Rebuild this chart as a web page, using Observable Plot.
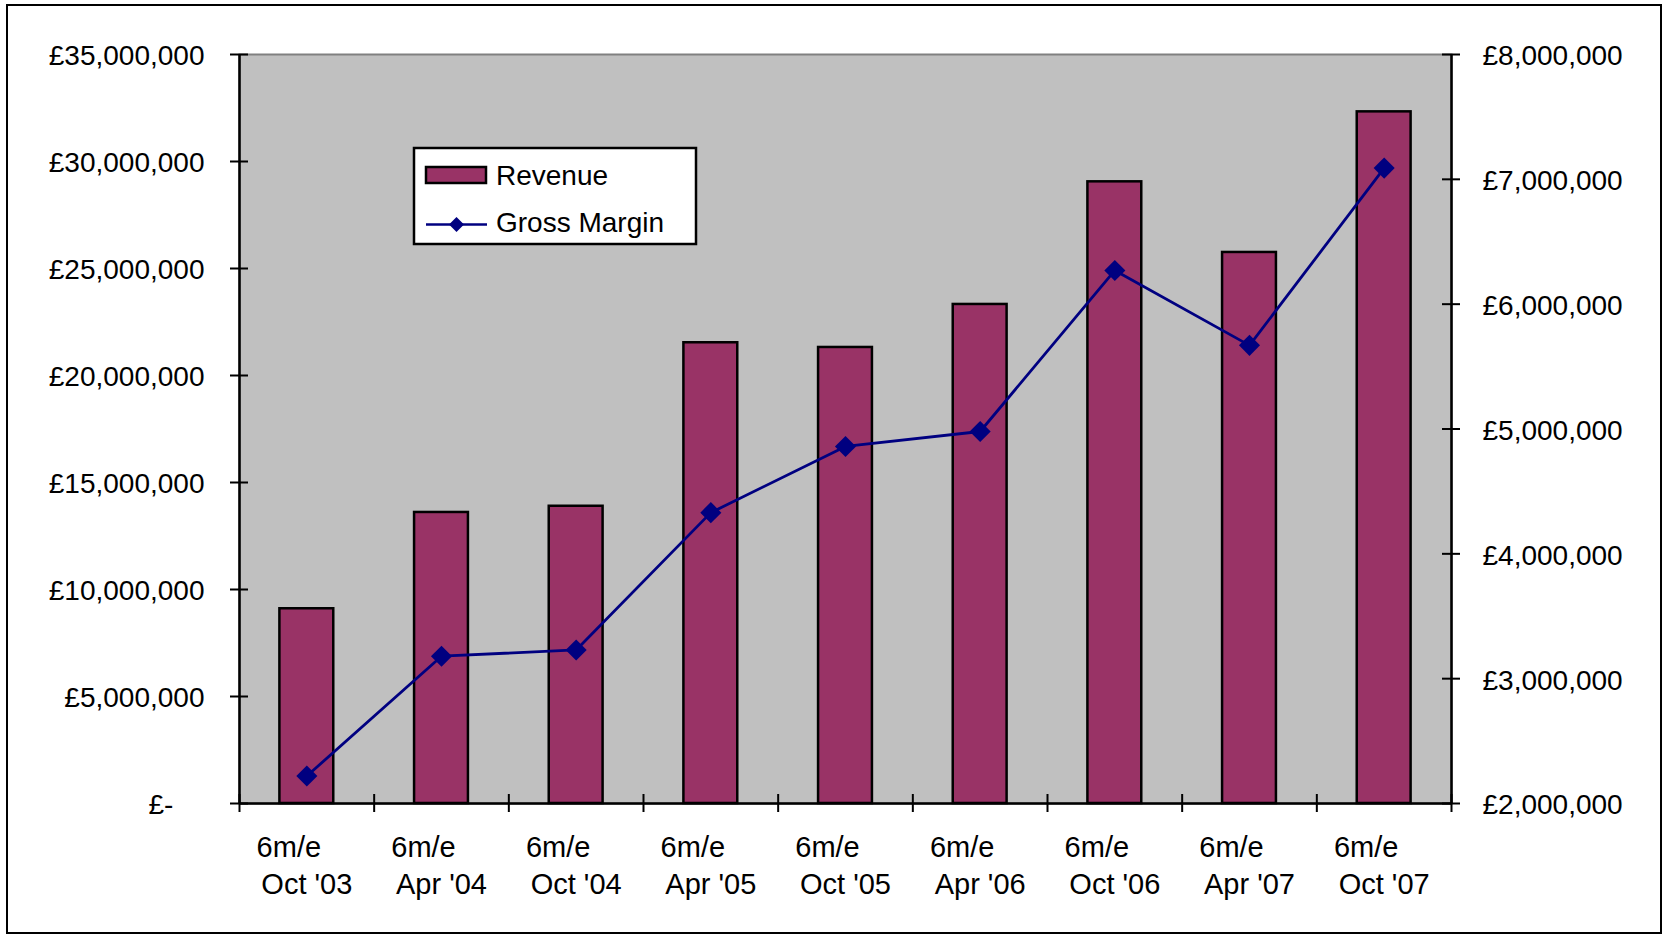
<!DOCTYPE html>
<html>
<head>
<meta charset="utf-8">
<script src="https://cdn.jsdelivr.net/npm/d3@7"></script>
<script src="https://cdn.jsdelivr.net/npm/@observablehq/plot@0.6"></script>
<style>
  html, body { margin: 0; padding: 0; background: #fff; }
  #wrap { position: relative; width: 1666px; height: 937px; }
  #wrap > svg { position: absolute; left: 0; top: 0; }
  #border { position: absolute; left: 6px; top: 4px; width: 1652px; height: 926px; border: 2.5px solid #000; pointer-events: none; }
  #legend { position: absolute; left: 0; top: 0; pointer-events: none; }
</style>
</head>
<body>
<div id="wrap"></div>
<script>
// ---- data ----
const periods = ["Oct '03", "Apr '04", "Oct '04", "Apr '05", "Oct '05", "Apr '06", "Oct '06", "Apr '07", "Oct '07"];
const periodPrefix = "6m/e";
const revenue = [9100000, 13600000, 13890000, 21530000, 21310000, 23320000, 29050000, 25750000, 32320000];
const grossMargin = [2220000, 3180000, 3230000, 4330000, 4860000, 4980000, 6270000, 5670000, 7090000];
const leftTicks = [0, 5000000, 10000000, 15000000, 20000000, 25000000, 30000000, 35000000];
const rightTicks = [2000000, 3000000, 4000000, 5000000, 6000000, 7000000, 8000000];
const seriesNames = ["Revenue", "Gross Margin"];

// ---- secondary axis mapping ----
const leftDomain = [0, 35000000];
const rightDomain = [2000000, 8000000];
const k = (leftDomain[1] - leftDomain[0]) / (rightDomain[1] - rightDomain[0]);
const toLeft = v => (v - rightDomain[0]) * k + leftDomain[0];
const fromLeft = v => (v - leftDomain[0]) / k + rightDomain[0];

const rows = periods.map((p, i) => ({period: p, revenue: revenue[i], gm: grossMargin[i]}));

const W = 1666, H = 937;
const mL = 239, mR = 215, mT = 54, mB = 134;
const frameW = W - mL - mR, frameH = H - mT - mB;
const step = frameW / periods.length;
const tk = 9;

const fmt = d3.format(",.0f");
const leftFmt = d => d === 0 ? "£-\u2007\u2007" : "£" + fmt(d);
const rightFmt = d => "£" + fmt(Math.round(fromLeft(d)));

const barColor = "#993366";
const lineColor = "#000080";
const labelStyle = {fontSize: 28, letterSpacing: "0.3px"};

const chart = Plot.plot({
  width: W,
  height: H,
  marginLeft: mL,
  marginRight: mR,
  marginTop: mT,
  marginBottom: mB,
  style: {fontFamily: "'Liberation Sans', Arial, sans-serif", fontSize: "28px", color: "#000", background: "transparent", overflow: "visible"},
  x: {type: "band", domain: periods, paddingInner: 0.6, paddingOuter: 0.3, round: false},
  y: {domain: leftDomain},
  marks: [
    Plot.frame({fill: "#c0c0c0", stroke: "#808080", strokeWidth: 2}),
    Plot.barY(rows, {x: "period", y: "revenue", fill: barColor, stroke: "#000", strokeWidth: 2.5}),
    Plot.line(rows, {x: "period", y: d => toLeft(d.gm), stroke: lineColor, strokeWidth: 2.8}),
    Plot.dot(rows, {x: "period", y: d => toLeft(d.gm), symbol: "diamond2", r: 9.5, fill: lineColor, stroke: "none"}),
    // axis lines
    Plot.ruleY([0], {stroke: "#000", strokeWidth: 2.5}),
    Plot.tickX([periods[0]], {x: d => d, dx: -step / 2, stroke: "#000", strokeWidth: 2.5}),
    Plot.tickX([periods[periods.length - 1]], {x: d => d, dx: step / 2, stroke: "#000", strokeWidth: 2.5}),
    // crossing tick marks
    Plot.tickY(leftTicks, {y: d => d, insetLeft: -tk, insetRight: frameW - tk, stroke: "#000", strokeWidth: 2}),
    Plot.tickY(rightTicks.map(toLeft), {y: d => d, insetLeft: frameW - tk, insetRight: -tk, stroke: "#000", strokeWidth: 2}),
    Plot.tickX(periods, {x: d => d, dx: -step / 2, insetTop: frameH - tk, insetBottom: -tk, stroke: "#000", strokeWidth: 2}),
    Plot.tickX([periods[periods.length - 1]], {x: d => d, dx: step / 2, insetTop: frameH - tk, insetBottom: -tk, stroke: "#000", strokeWidth: 2}),
    // axis labels
    Plot.axisY(leftTicks, {anchor: "left", label: null, tickSize: 0, tickPadding: 35, tickFormat: leftFmt, dy: 2, ...labelStyle}),
    Plot.axisY(rightTicks.map(toLeft), {anchor: "right", label: null, tickSize: 0, tickPadding: 31, tickFormat: rightFmt, dy: 2, ...labelStyle}),
    Plot.axisX(periods, {anchor: "bottom", label: null, tickSize: 0, tickPadding: 33, tickFormat: () => periodPrefix, dx: -18, fontSize: 29}),
    Plot.axisX(periods, {anchor: "bottom", label: null, tickSize: 0, tickPadding: 70, tickFormat: d => d, fontSize: 29})
  ]
});

const wrap = document.getElementById("wrap");
wrap.appendChild(chart);

// legend (inside the plot area, as in the reference)
const ns = "http://www.w3.org/2000/svg";
const lg = document.createElementNS(ns, "svg");
lg.setAttribute("id", "legend");
lg.setAttribute("width", W);
lg.setAttribute("height", H);
lg.innerHTML = `
  <rect x="414" y="148" width="282" height="96" fill="#fff" stroke="#000" stroke-width="2.5"/>
  <rect x="426" y="167" width="60" height="16" fill="${barColor}" stroke="#000" stroke-width="2.5"/>
  <line x1="426" x2="487" y1="224.5" y2="224.5" stroke="${lineColor}" stroke-width="2.5"/>
  <path d="M456.5,217L464,224.5L456.5,232L449,224.5Z" fill="${lineColor}"/>
  <text x="496" y="185" font-family="'Liberation Sans', Arial, sans-serif" font-size="28" fill="#000">${seriesNames[0]}</text>
  <text x="496" y="232" font-family="'Liberation Sans', Arial, sans-serif" font-size="28" fill="#000">${seriesNames[1]}</text>
`;
wrap.appendChild(lg);

const border = document.createElement("div");
border.id = "border";
wrap.appendChild(border);
</script>
</body>
</html>
